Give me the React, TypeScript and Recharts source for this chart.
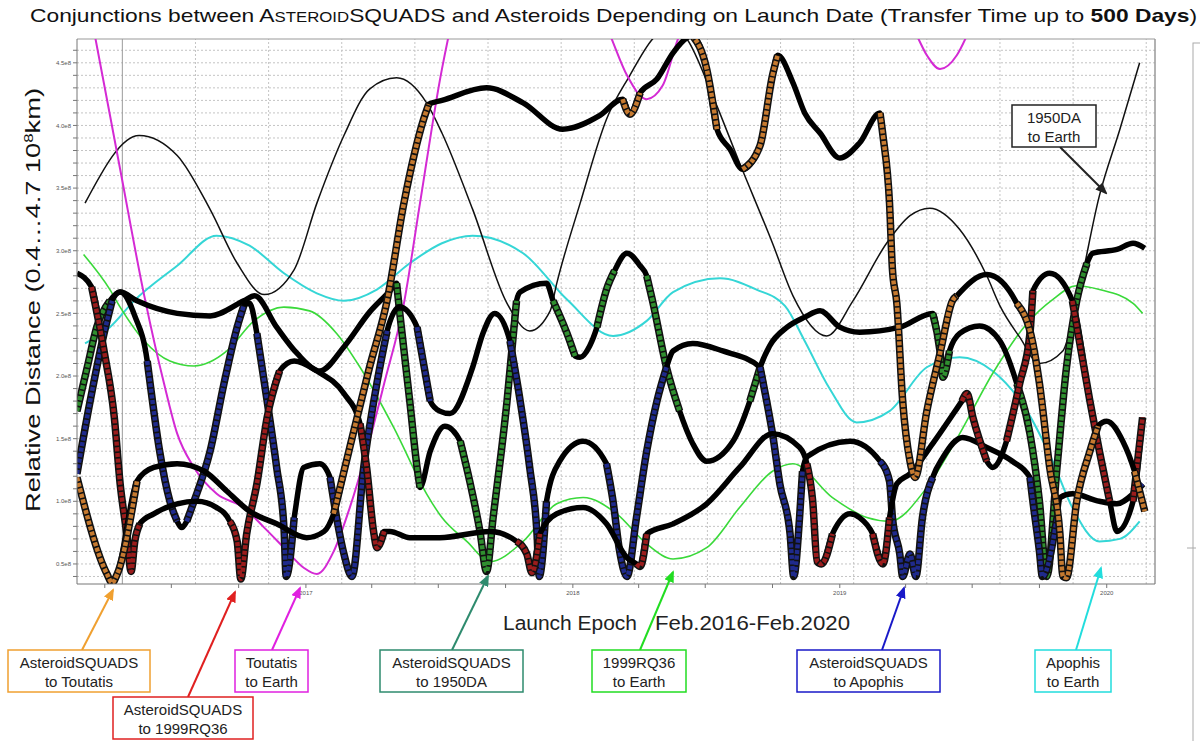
import React from 'react';
import { LineChart, Line, XAxis, YAxis, ReferenceLine } from 'recharts';

// x = days since 1 Jan 2016, y = distance in 10^6 km
const quarterTicks = [91, 182, 274, 366, 456, 547, 639, 731, 821, 912, 1004, 1096, 1186, 1277, 1369, 1461];
const yearLabels: Record<number, string> = { 366: '2017', 731: '2018', 1096: '2019', 1461: '2020' };

// thin reference curves: [day, distance]
const da1950Earth = [
  [64, 338], [138, 392], [190, 376], [235, 333], [272, 290], [309, 265], [350, 285], [381, 338], [418, 392],
  [453, 429], [490, 438], [531, 418], [552, 394], [594, 333], [641, 258], [672, 236], [700, 252], [709, 274],
  [741, 338], [777, 405], [809, 440], [840, 469], [864, 480], [887, 469], [922, 424], [959, 370], [1004, 306],
  [1032, 264], [1078, 232], [1114, 260], [1160, 306], [1192, 328], [1219, 334], [1260, 317], [1297, 280],
  [1315, 256], [1342, 231], [1369, 210], [1401, 220], [1420, 260], [1451, 344], [1479, 397], [1506, 450],
];

const apophisEarth = [
  [64, 226], [98, 239], [131, 260], [190, 288], [244, 312], [289, 304], [336, 282], [381, 266], [418, 260],
  [463, 269], [508, 290], [552, 306], [594, 312], [663, 298], [723, 261], [786, 232], [832, 244], [868, 267],
  [932, 278], [982, 269], [1021, 256], [1048, 228], [1082, 190], [1119, 163], [1164, 172], [1215, 207],
  [1260, 215], [1305, 204], [1352, 172], [1387, 132], [1414, 95], [1451, 68], [1479, 70], [1506, 84],
];

const rq36Earth = [
  [62, 297], [98, 269], [112, 255], [145, 228], [180, 212], [213, 208], [258, 220], [295, 244], [336, 255],
  [371, 252], [408, 234], [440, 207], [486, 159], [531, 106], [552, 87], [586, 68], [618, 52], [663, 68],
  [709, 98], [745, 103], [791, 90], [832, 66], [868, 54], [914, 63], [959, 95], [1004, 124], [1032, 130],
  [1086, 103], [1133, 87], [1164, 84], [1215, 111], [1260, 154], [1305, 202], [1352, 242], [1387, 261],
  [1420, 272], [1451, 269], [1497, 258], [1510, 250],
];

const toutatisEarth = [
  [64, 512], [78, 470], [112, 365], [145, 264], [172, 194], [190, 154], [213, 127], [244, 106], [281, 95],
  [309, 79], [336, 63], [363, 47], [381, 42], [404, 60], [426, 95], [449, 140], [473, 194], [500, 258],
  [522, 338], [552, 445], [668, 620], [782, 472], [805, 440], [832, 421], [854, 432], [877, 472], [1041, 564],
  [1201, 472], [1215, 456], [1233, 445], [1256, 456], [1270, 472], [1315, 548],
];

// AsteroidSQUADS curves: [day, distance, 1 = drawn with markers]
const squadsToutatis = [
  [53, 119, 1], [94, 42, 1], [101, 35, 1], [108, 42, 1], [135, 116, 1], [158, 127, 0], [190, 130, 0],
  [227, 124, 0], [258, 108, 0], [289, 92, 0], [326, 82, 0], [367, 71, 0], [391, 76, 0], [404, 90, 1],
  [426, 143, 1], [453, 207, 1], [477, 260, 1], [500, 338, 1], [527, 405, 1], [534, 417, 1], [552, 420, 0],
  [613, 430, 0], [663, 418, 0], [717, 397, 0], [768, 408, 0], [799, 421, 1], [809, 409, 1], [823, 426, 1],
  [846, 437, 0], [868, 458, 0], [887, 470, 0], [894, 472, 1], [914, 445, 1], [928, 397, 1], [946, 381, 0],
  [963, 365, 1], [987, 384, 1], [1004, 440, 1], [1011, 456, 1], [1032, 434, 0], [1048, 410, 0], [1069, 394, 0],
  [1096, 374, 0], [1123, 386, 0], [1151, 410, 1], [1155, 392, 1], [1164, 338, 1], [1168, 285, 1], [1174, 258, 1],
  [1182, 180, 1], [1192, 132, 1], [1199, 119, 1], [1215, 172, 1], [1233, 218, 1], [1250, 260, 1], [1256, 264, 1],
  [1297, 281, 0], [1338, 258, 1], [1360, 226, 1], [1369, 194, 1], [1383, 127, 1], [1397, 74, 1], [1401, 40, 1],
  [1406, 39, 1], [1420, 100, 1], [1438, 140, 1], [1449, 160, 1], [1461, 164, 0], [1483, 148, 0], [1499, 124, 1],
  [1513, 92, 1],
];

const squadsRq36 = [
  [53, 282, 0], [73, 271, 1], [90, 220, 1], [104, 167, 1], [112, 114, 1], [121, 74, 1], [127, 44, 1], [132, 68, 1],
  [139, 82, 1], [158, 90, 0], [190, 98, 0], [217, 100, 0], [244, 95, 0], [262, 84, 1], [272, 68, 1], [277, 38, 1],
  [285, 74, 1], [299, 114, 1], [313, 167, 1], [330, 204, 1], [350, 212, 0], [381, 204, 0], [418, 186, 0],
  [440, 162, 1], [449, 127, 1], [459, 74, 1], [463, 63, 1], [473, 76, 1], [481, 76, 0], [508, 71, 0], [549, 71, 0],
  [618, 76, 0], [654, 68, 1], [668, 58, 1], [675, 43, 1], [686, 74, 1], [709, 90, 0], [745, 95, 0], [777, 82, 0],
  [805, 55, 0], [818, 50, 1], [823, 48, 1], [832, 74, 1], [868, 82, 0], [914, 98, 0], [959, 127, 0], [1004, 154, 0],
  [1041, 143, 0], [1051, 130, 1], [1059, 100, 1], [1065, 52, 1], [1071, 50, 1], [1086, 74, 1], [1110, 90, 0],
  [1123, 87, 0], [1141, 74, 1], [1155, 50, 1], [1164, 87, 1], [1174, 114, 0], [1192, 122, 0], [1223, 146, 0],
  [1263, 180, 1], [1270, 186, 1], [1278, 167, 1], [1297, 132, 1], [1305, 127, 0], [1324, 148, 1], [1342, 194, 1],
  [1356, 234, 1], [1360, 268, 1], [1383, 282, 0], [1414, 260, 1], [1438, 180, 1], [1451, 140, 1], [1465, 100, 1],
  [1475, 76, 0], [1497, 100, 1], [1510, 167, 1],
];

const squadsApophis = [
  [53, 122, 1], [71, 180, 1], [90, 234, 1], [101, 260, 1], [112, 267, 0], [132, 248, 0], [149, 212, 1], [153, 194, 1],
  [166, 140, 1], [180, 100, 1], [190, 84, 1], [196, 79, 0], [203, 84, 1], [213, 100, 1], [235, 140, 1], [254, 194, 1],
  [272, 239, 1], [281, 256, 1], [289, 258, 0], [299, 234, 1], [313, 180, 1], [326, 127, 1], [336, 79, 1], [339, 40, 1],
  [350, 87, 1], [363, 127, 0], [385, 130, 0], [399, 119, 1], [408, 87, 1], [418, 58, 1], [429, 40, 1], [445, 127, 1],
  [463, 194, 1], [477, 236, 1], [494, 255, 0], [518, 239, 1], [536, 180, 1], [549, 172, 0], [563, 170, 0],
  [594, 207, 0], [608, 234, 1], [624, 250, 0], [645, 228, 1], [659, 180, 1], [672, 127, 1], [682, 74, 1],
  [685, 40, 1], [695, 100, 1], [713, 132, 0], [745, 148, 0], [777, 130, 1], [786, 100, 1], [795, 60, 1], [805, 40, 1],
  [818, 87, 1], [832, 140, 1], [846, 180, 1], [859, 207, 1], [868, 220, 0], [895, 226, 0], [936, 220, 0],
  [987, 207, 1], [996, 180, 1], [1004, 154, 1], [1014, 114, 1], [1028, 74, 1], [1033, 40, 1], [1041, 87, 1],
  [1045, 124, 1], [1052, 136, 0], [1110, 148, 0], [1151, 132, 1], [1164, 116, 1], [1168, 87, 1], [1178, 58, 1],
  [1182, 40, 1], [1192, 58, 1], [1200, 40, 1], [1209, 87, 1], [1223, 119, 1], [1237, 135, 0], [1264, 151, 0],
  [1297, 143, 0], [1332, 132, 0], [1356, 119, 1], [1360, 100, 1], [1369, 60, 1], [1373, 40, 1], [1393, 87, 1],
  [1397, 103, 0], [1414, 106, 0], [1451, 100, 0], [1475, 98, 0], [1497, 106, 1], [1510, 114, 1],
];

const squads1950da = [
  [53, 172, 1], [67, 207, 1], [80, 239, 1], [98, 260, 1], [112, 267, 0], [135, 260, 0], [190, 250, 0], [235, 248, 0],
  [281, 260, 0], [296, 264, 0], [326, 239, 0], [354, 218, 0], [385, 204, 0], [419, 224, 0], [453, 251, 0],
  [481, 268, 0], [490, 274, 1], [494, 252, 1], [508, 180, 1], [518, 127, 1], [522, 111, 1], [536, 140, 0],
  [556, 160, 0], [577, 148, 1], [590, 116, 1], [604, 76, 1], [613, 44, 1], [622, 87, 1], [641, 180, 1], [654, 260, 1],
  [659, 267, 0], [695, 274, 0], [704, 260, 1], [723, 234, 1], [734, 216, 1], [741, 215, 0], [754, 224, 0],
  [764, 239, 1], [777, 269, 1], [788, 284, 1], [805, 298, 0], [823, 288, 0], [832, 280, 1], [840, 260, 1],
  [859, 207, 1], [877, 172, 1], [895, 146, 0], [914, 132, 0], [950, 148, 0], [973, 180, 1], [987, 207, 1],
  [1000, 224, 0], [1024, 239, 0], [1048, 247, 0], [1069, 252, 0], [1096, 239, 0], [1123, 235, 0], [1178, 239, 0],
  [1223, 250, 1], [1233, 220, 1], [1237, 199, 1], [1246, 220, 1], [1260, 234, 0], [1287, 240, 0], [1315, 228, 0],
  [1338, 194, 1], [1356, 154, 1], [1369, 100, 1], [1379, 40, 1], [1393, 127, 1], [1406, 207, 1], [1420, 260, 1],
  [1434, 290, 1], [1442, 298, 0], [1475, 301, 0], [1497, 306, 0], [1513, 302, 1],
];

const yTicks = Array.from({ length: 43 }, (_, i) => 40 + i * 10);
const vGrid = Array.from({ length: 14 }, (_, i) => 215 + i * 100);

const thin = (rows: number[][]) => rows.map(([d, y]) => ({ d, y }));
const marked = (rows: number[][]) => rows.map(([d, y, m]) => ({ d, y, mk: m ? y : null }));

const FONT = '"Liberation Sans", Arial, sans-serif';

const notes = [
  { x: 8, y: 650, w: 142, h: 42, c: '#f0a030', t: ['AsteroidSQUADS', 'to Toutatis'], ax: 82, ay: 650, bx: 113, by: 590 },
  { x: 113, y: 697, w: 140, h: 42, c: '#e02020', t: ['AsteroidSQUADS', 'to 1999RQ36'], ax: 188, ay: 697, bx: 235, by: 592 },
  { x: 235, y: 650, w: 73, h: 42, c: '#e020e0', t: ['Toutatis', 'to Earth'], ax: 272, ay: 650, bx: 300, by: 588 },
  { x: 380, y: 650, w: 143, h: 42, c: '#2e8b6e', t: ['AsteroidSQUADS', 'to 1950DA'], ax: 452, ay: 650, bx: 488, by: 576 },
  { x: 592, y: 650, w: 94, h: 42, c: '#22dd22', t: ['1999RQ36', 'to Earth'], ax: 640, ay: 650, bx: 673, by: 572 },
  { x: 797, y: 650, w: 143, h: 42, c: '#1818c8', t: ['AsteroidSQUADS', 'to Apophis'], ax: 882, ay: 650, bx: 904, by: 588 },
  { x: 1035, y: 650, w: 76, h: 42, c: '#22dddd', t: ['Apophis', 'to Earth'], ax: 1076, ay: 650, bx: 1101, by: 568 },
  { x: 1012, y: 105, w: 84, h: 42, c: '#222222', t: ['1950DA', 'to Earth'], ax: 1060, ay: 147, bx: 1106, by: 193 },
];

function squadsLines(rows: number[][], color: string, id: string) {
  const data = marked(rows);
  return [
    <Line key={id + 'a'} data={data} dataKey="y" type="monotone" stroke="#000" strokeWidth={5.5}
      dot={false} activeDot={false} isAnimationActive={false} />,
    <Line key={id + 'b'} data={data} dataKey="mk" type="monotone" stroke="#111" strokeWidth={7.5}
      dot={false} activeDot={false} isAnimationActive={false} />,
    <Line key={id + 'c'} data={data} dataKey="mk" type="monotone" stroke={color} strokeWidth={4.5}
      strokeDasharray="4 1.6" dot={false} activeDot={false} isAnimationActive={false} />,
  ];
}

export default function App() {
  return (
    <div style={{ position: 'absolute', left: 0, top: 0, width: 1200, height: 741, background: '#fff', fontFamily: FONT }}>
      <LineChart width={1200} height={741} margin={{ top: 39, right: 45, bottom: 127, left: 17 }}>
        <XAxis type="number" dataKey="d" domain={[53, 1527]} allowDataOverflow ticks={quarterTicks}
          tickFormatter={(v: number) => yearLabels[v] || ''} tickSize={4} tickMargin={3} height={30}
          stroke="#777" tick={{ fontSize: 6, fill: '#555' }} />
        <YAxis type="number" domain={[34, 469]} allowDataOverflow ticks={yTicks} width={60}
          tickFormatter={(v: number) => (v % 50 === 0 ? (v / 100).toFixed(1) + 'e8' : '')} tickSize={4} tickMargin={2}
          stroke="#777" tick={{ fontSize: 6, fill: '#555' }} />
        {yTicks.map((v) => (
          <ReferenceLine key={'h' + v} y={v} stroke="#c4c4c4" strokeDasharray="2 2" />
        ))}
        {vGrid.map((v) => (
          <ReferenceLine key={'v' + v} x={v} stroke="#c4c4c4" strokeDasharray="2 2" />
        ))}
        <ReferenceLine x={115} stroke="#9a9a9a" strokeWidth={1} />
        <ReferenceLine y={469} stroke="#999" />
        <ReferenceLine x={1527} stroke="#999" strokeWidth={1.5} />

        <Line data={thin(apophisEarth)} dataKey="y" type="monotone" stroke="#35d6d6" strokeWidth={2}
          dot={false} activeDot={false} isAnimationActive={false} />
        <Line data={thin(rq36Earth)} dataKey="y" type="monotone" stroke="#3ad93a" strokeWidth={1.6}
          dot={false} activeDot={false} isAnimationActive={false} />
        <Line data={thin(da1950Earth)} dataKey="y" type="monotone" stroke="#111" strokeWidth={1.5}
          dot={false} activeDot={false} isAnimationActive={false} />
        <Line data={thin(toutatisEarth)} dataKey="y" type="monotone" stroke="#d42ad4" strokeWidth={2}
          dot={false} activeDot={false} isAnimationActive={false} />

        {squadsLines(squads1950da, '#2f8f2f', 'g')}
        {squadsLines(squadsApophis, '#1f2a8c', 'n')}
        {squadsLines(squadsRq36, '#9b1c1c', 'r')}
        {squadsLines(squadsToutatis, '#c67a30', 'o')}
      </LineChart>

      <svg width={1200} height={741} style={{ position: 'absolute', left: 0, top: 0, pointerEvents: 'none' }}>
        <defs>
          {notes.map((n, i) => (
            <marker key={i} id={'arr' + i} markerWidth={12} markerHeight={10} refX={10} refY={5}
              orient="auto" markerUnits="userSpaceOnUse">
              <path d="M0,0 L12,5 L0,10 z" fill={n.c} />
            </marker>
          ))}
        </defs>
        <text x={30} y={22} fontSize={19} fontFamily={FONT} fill="#111" textLength={1167} lengthAdjust="spacingAndGlyphs">
          Conjunctions between A<tspan fontSize={14}>STEROID</tspan>SQUADS and Asteroids Depending on Launch Date (Transfer Time up to{' '}
          <tspan fontWeight="bold">500 Days</tspan>)
        </text>
        <text transform="translate(40,300) rotate(-90)" textAnchor="middle" fontSize={21} fontFamily={FONT} fill="#111"
          textLength={424} lengthAdjust="spacingAndGlyphs">
          Relative Distance  (0.4…4.7 10<tspan baselineShift="super" fontSize={13}>8</tspan>km)
        </text>
        <text x={503} y={630} fontSize={20} fontFamily={FONT} fill="#222" textLength={134} lengthAdjust="spacingAndGlyphs">Launch Epoch</text>
        <text x={655} y={630} fontSize={20} fontFamily={FONT} fill="#222" textLength={195} lengthAdjust="spacingAndGlyphs">Feb.2016-Feb.2020</text>

        {notes.map((n, i) => (
          <g key={'n' + i}>
            <line x1={n.ax} y1={n.ay} x2={n.bx} y2={n.by} stroke={n.c} strokeWidth={2} markerEnd={`url(#arr${i})`} />
            <rect x={n.x} y={n.y} width={n.w} height={n.h} fill="#fff" stroke={n.c} strokeWidth={1.5} />
            <text x={n.x + n.w / 2} y={n.y + 18} textAnchor="middle" fontSize={15} fontFamily={FONT} fill="#222">{n.t[0]}</text>
            <text x={n.x + n.w / 2} y={n.y + 37} textAnchor="middle" fontSize={15} fontFamily={FONT} fill="#222">{n.t[1]}</text>
          </g>
        ))}

        <rect x={1193} y={43} width={40} height={720} fill="none" stroke="#aaa" />
        <line x1={1187} y1={548} x2={1196} y2={548} stroke="#aaa" />
      </svg>
    </div>
  );
}
